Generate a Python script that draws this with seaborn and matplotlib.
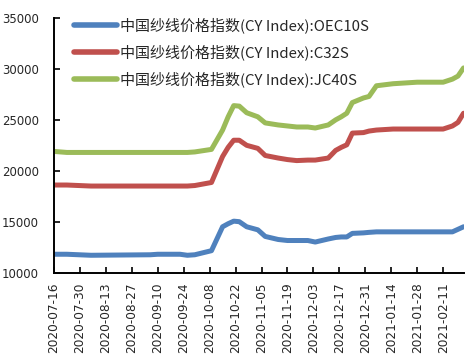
import matplotlib
matplotlib.use("Agg")
import matplotlib.pyplot as plt
import matplotlib.dates as mdates
import seaborn as sns
import pandas as pd

dates = ["2020-07-16", "2020-07-23", "2020-08-05", "2020-09-06", "2020-09-10",
         "2020-09-22", "2020-09-26", "2020-09-30", "2020-10-09", "2020-10-15",
         "2020-10-18", "2020-10-21", "2020-10-24", "2020-10-28", "2020-11-03",
         "2020-11-07", "2020-11-14", "2020-11-19", "2020-11-24", "2020-11-30",
         "2020-12-04", "2020-12-11", "2020-12-15", "2020-12-18", "2020-12-21",
         "2020-12-24", "2020-12-30", "2021-01-02", "2021-01-06", "2021-01-15",
         "2021-01-28", "2021-02-11", "2021-02-16", "2021-02-19", "2021-02-22"]

oec10s = [11800, 11800, 11700, 11750, 11800,
          11800, 11700, 11750, 12150, 14500,
          14800, 15050, 15000, 14500, 14200,
          13550, 13250, 13150, 13150, 13150,
          13000, 13300, 13450, 13500, 13500,
          13850, 13900, 13950, 14000, 14000,
          14000, 14000, 14000, 14250, 14500]

c32s = [18600, 18600, 18500, 18500, 18500,
        18500, 18500, 18550, 18850, 21400,
        22300, 23000, 23000, 22500, 22200,
        21500, 21250, 21100, 21000, 21050,
        21050, 21250, 22000, 22300, 22550,
        23700, 23750, 23900, 24000, 24100,
        24100, 24100, 24400, 24750, 25650]

jc40s = [21900, 21800, 21800, 21800, 21800,
         21800, 21800, 21850, 22100, 24000,
         25300, 26400, 26350, 25700, 25300,
         24700, 24500, 24400, 24300, 24300,
         24200, 24500, 25000, 25300, 25650,
         26700, 27150, 27300, 28350, 28550,
         28700, 28700, 29000, 29300, 30100]

series_names = ["中国纱线价格指数(CY Index):OEC10S",
                "中国纱线价格指数(CY Index):C32S",
                "中国纱线价格指数(CY Index):JC40S"]
colors = ["#4F81BD", "#C0504D", "#9BBB59"]

df = pd.DataFrame({"date": pd.to_datetime(dates),
                   series_names[0]: oec10s,
                   series_names[1]: c32s,
                   series_names[2]: jc40s})
long_df = df.melt(id_vars="date", var_name="series", value_name="value")

sns.set_style("white")
plt.rcParams["font.family"] = ["DejaVu Sans"]

fig = plt.figure(figsize=(4.73, 3.54), dpi=100)
ax = fig.add_axes([0.114, 0.230, 0.866, 0.719])
sns.lineplot(data=long_df, x="date", y="value", hue="series",
             hue_order=series_names, palette=colors, linewidth=3.6, ax=ax)

ax.set_ylim(10000, 35000)
ax.set_yticks(range(10000, 35001, 5000))
ticks = pd.date_range("2020-07-16", "2021-02-11", freq="14D")
ax.set_xticks(ticks)
ax.xaxis.set_major_formatter(mdates.DateFormatter("%Y-%m-%d"))
ax.set_xlim(pd.Timestamp("2020-07-16"), pd.Timestamp("2021-02-22"))
ax.set_xlabel("")
ax.set_ylabel("")

for s in ["top", "right"]:
    ax.spines[s].set_visible(False)
for s in ["left", "bottom"]:
    ax.spines[s].set_color("black")
    ax.spines[s].set_linewidth(1.4)

ax.tick_params(axis="y", direction="in", length=4, width=1.2, color="black",
               labelsize=8.5, pad=11, left=True)
ax.tick_params(axis="x", direction="in", length=4, width=1.2, color="black",
               labelsize=8.7, pad=7, rotation=90, bottom=True)

leg = ax.legend(loc="upper left", bbox_to_anchor=(0.015, 1.056), frameon=False,
                handlelength=2.9, handletextpad=0.2, labelspacing=0.75,
                prop={"family": ["Noto Sans CJK SC", "DejaVu Sans"], "size": 10.8})
for line in leg.get_lines():
    line.set_linewidth(4)

fig.savefig("out.png", dpi=100)
